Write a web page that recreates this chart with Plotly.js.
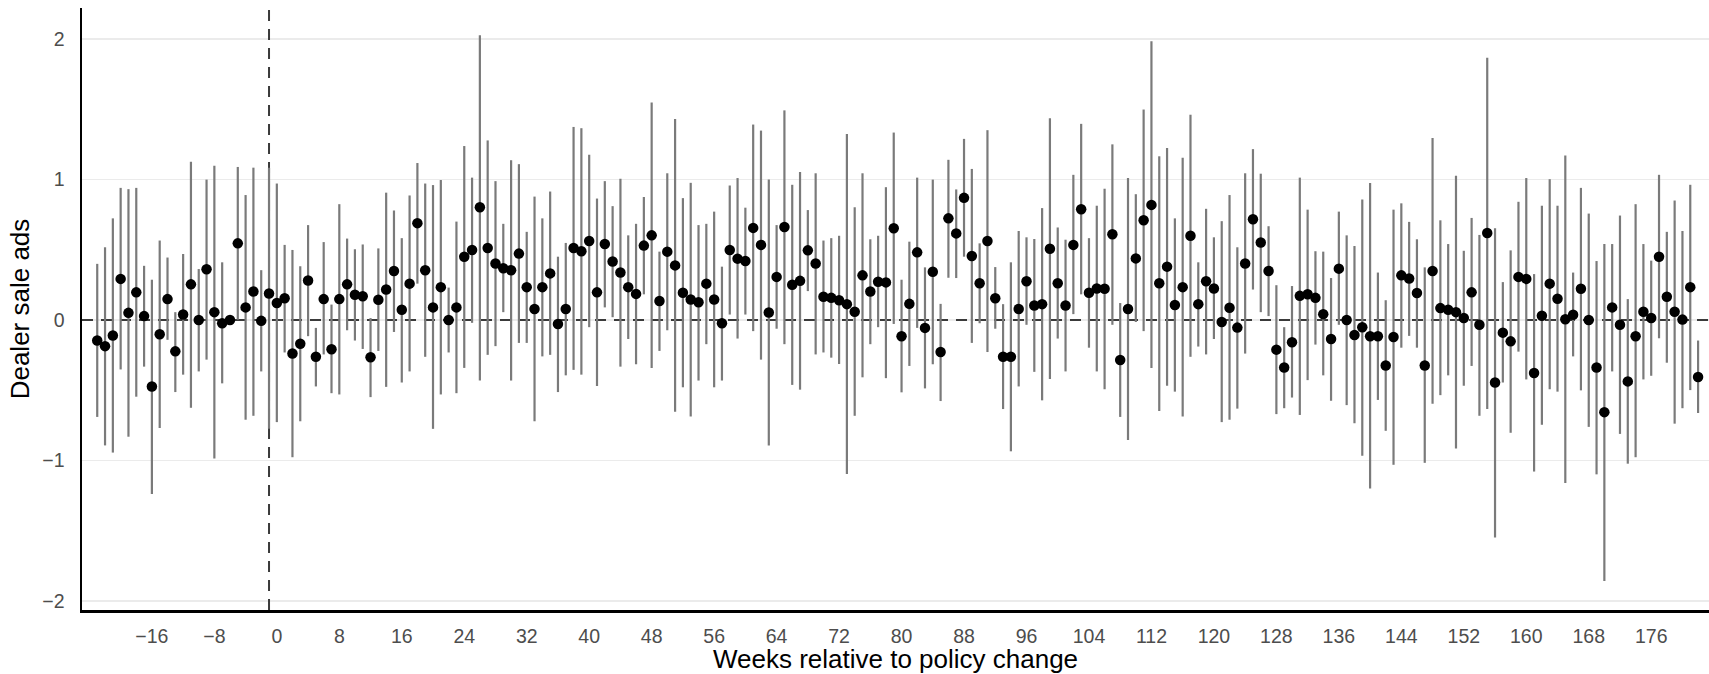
<!DOCTYPE html>
<html>
<head>
<meta charset="utf-8">
<script src="https://cdn.plot.ly/plotly-3.0.1.min.js"></script>
<style>
  html, body { margin: 0; padding: 0; background: #ffffff; }
  #chart { width: 1709px; height: 674px; }
</style>
</head>
<body>
<div id="chart"></div>
<script>
// Weeks relative to policy change
const weeks = [-23,-22,-21,-20,-19,-18,-17,-16,-15,-14,-13,-12,-11,-10,-9,-8,-7,-6,-5,-4,-3,-2,-1,
  0,1,2,3,4,5,6,7,8,9,10,11,12,13,14,15,16,17,18,19,20,21,22,23,24,25,26,27,28,29,30,31,32,33,34,35,36,37,38,39,
  40,41,42,43,44,45,46,47,48,49,50,51,52,53,54,55,56,57,58,59,60,61,62,63,64,65,66,67,68,69,70,71,72,73,74,75,76,77,78,79,
  80,81,82,83,84,85,86,87,88,89,90,91,92,93,94,95,96,97,98,99,100,101,102,103,104,105,106,107,108,109,110,111,112,113,114,115,116,117,118,119,
  120,121,122,123,124,125,126,127,128,129,130,131,132,133,134,135,136,137,138,139,140,141,142,143,144,145,146,147,148,149,150,151,152,153,154,155,156,157,158,159,
  160,161,162,163,164,165,166,167,168,169,170,171,172,173,174,175,176,177,178,179,180,181,182];

// Point estimates
const estimate = [-0.146,-0.186,-0.11,0.293,0.051,0.197,0.028,-0.473,-0.101,0.149,-0.223,0.039,0.254,0.0,0.361,0.056,-0.023,0.0,0.546,0.09,0.203,-0.006,0.189,
  0.121,0.155,-0.239,-0.169,0.282,-0.262,0.149,-0.208,0.149,0.254,0.18,0.169,-0.265,0.144,0.217,0.349,0.073,0.259,0.69,0.355,0.09,0.234,0.0,0.09,0.451,0.499,0.803,0.513,0.403,0.369,0.355,0.473,0.234,0.079,0.234,0.332,-0.028,0.079,0.513,0.49,
  0.563,0.197,0.541,0.417,0.338,0.234,0.186,0.530,0.603,0.135,0.487,0.389,0.194,0.146,0.127,0.259,0.146,-0.023,0.499,0.437,0.42,0.656,0.535,0.054,0.307,0.662,0.251,0.279,0.496,0.403,0.166,0.158,0.141,0.113,0.059,0.318,0.203,0.273,0.268,0.654,
  -0.115,0.115,0.482,-0.056,0.344,-0.228,0.724,0.617,0.870,0.456,0.262,0.563,0.155,-0.262,-0.262,0.079,0.276,0.104,0.113,0.507,0.262,0.104,0.535,0.789,0.194,0.225,0.223,0.611,-0.285,0.079,0.439,0.71,0.82,0.262,0.38,0.107,0.234,0.60,0.113,0.276,
  0.225,-0.014,0.087,-0.054,0.403,0.718,0.552,0.349,-0.211,-0.338,-0.158,0.172,0.183,0.158,0.042,-0.135,0.366,0.0,-0.107,-0.051,-0.115,-0.115,-0.324,-0.121,0.318,0.296,0.192,-0.324,0.349,0.085,0.073,0.056,0.014,0.197,-0.034,0.62,-0.445,-0.09,-0.152,0.307,
  0.293,-0.377,0.031,0.259,0.152,0.006,0.037,0.223,0.0,-0.338,-0.656,0.09,-0.034,-0.437,-0.115,0.059,0.014,0.451,0.166,0.059,0.003,0.234,-0.406];

// Upper bound of the confidence interval
const upper = [0.40,0.518,0.724,0.941,0.932,0.941,0.386,0.287,0.566,0.445,0.056,0.470,1.127,0.363,1.0,1.099,0.411,0.0,1.09,0.89,1.085,0.355,1.085,
  0.972,0.535,0.499,0.383,0.676,-0.056,0.555,0.11,0.825,0.58,0.504,0.538,0.014,0.51,0.907,0.78,0.583,0.887,1.118,0.972,0.961,0.997,0.231,0.701,1.239,1.014,2.028,1.279,0.989,0.685,1.138,1.11,0.628,0.879,0.724,0.915,0.451,0.549,1.375,1.366,
  1.177,0.865,0.989,0.811,1.006,0.603,0.685,0.876,1.549,0.487,1.045,1.431,0.868,0.977,0.676,0.685,0.772,0.38,0.958,1.011,0.80,1.392,1.349,1.0,0.676,1.493,0.963,1.054,0.783,1.045,0.566,0.583,0.60,1.324,0.803,1.045,0.575,0.60,0.946,1.335,
  0.287,0.558,1.014,0.375,1.0,0.115,1.141,0.93,1.29,1.076,0.546,1.352,0.377,0.113,0.411,0.634,0.589,0.577,0.797,1.437,0.659,0.572,1.034,1.397,0.583,0.814,0.935,1.251,0.121,1.011,0.896,1.499,1.986,1.166,1.225,0.724,1.155,1.462,0.411,0.792,
  0.589,0.704,0.89,0.518,1.045,1.217,1.042,0.668,0.248,-0.051,0.242,1.014,0.786,0.49,0.487,0.299,0.772,0.603,0.527,0.859,0.975,0.338,0.141,0.786,0.831,0.699,0.575,0.375,1.296,0.71,0.541,1.028,0.493,0.727,0.606,1.868,0.654,0.27,0.496,0.842,
  1.011,0.327,0.814,1.003,0.814,1.172,0.338,0.941,0.758,0.42,0.541,0.541,0.744,0.149,0.825,0.541,0.423,1.034,0.628,0.851,0.634,0.963,-0.146];

// Lower bound of the confidence interval
const lower = [-0.69,-0.893,-0.944,-0.352,-0.831,-0.546,-0.332,-1.239,-0.769,-0.141,-0.513,-0.389,-0.625,-0.366,-0.282,-0.986,-0.451,0.0,0.002,-0.71,-0.682,-0.366,-0.775,
  -0.727,-0.231,-0.977,-0.721,-0.115,-0.473,-0.245,-0.521,-0.53,-0.073,-0.146,-0.206,-0.549,-0.22,-0.476,-0.085,-0.445,-0.366,0.259,-0.262,-0.775,-0.53,-0.231,-0.521,-0.341,-0.02,-0.431,-0.248,-0.186,0.056,-0.431,-0.163,-0.163,-0.721,-0.259,-0.248,-0.513,-0.394,-0.355,-0.389,
  -0.051,-0.47,0.09,0.02,-0.332,-0.135,-0.315,0.183,-0.341,-0.22,-0.073,-0.654,-0.479,-0.687,-0.431,-0.172,-0.479,-0.431,0.039,-0.132,0.039,-0.079,-0.282,-0.893,-0.062,-0.172,-0.462,-0.496,0.206,-0.245,-0.231,-0.268,-0.313,-1.096,-0.682,-0.408,-0.172,-0.051,-0.414,-0.028,
  -0.515,-0.327,-0.056,-0.487,-0.315,-0.577,0.301,0.299,0.451,-0.163,-0.023,-0.228,-0.062,-0.634,-0.935,-0.473,-0.034,-0.369,-0.572,-0.42,-0.132,-0.366,0.042,0.183,-0.197,-0.366,-0.493,-0.034,-0.69,-0.854,-0.014,-0.079,-0.341,-0.648,-0.468,-0.51,-0.687,-0.262,-0.189,-0.245,
  -0.135,-0.727,-0.71,-0.631,-0.239,0.217,0.056,0.028,-0.67,-0.628,-0.552,-0.676,-0.428,-0.175,-0.394,-0.575,-0.034,-0.606,-0.735,-0.966,-1.2,-0.569,-0.789,-1.031,-0.197,-0.113,-0.197,-1.017,-0.597,-0.535,-0.394,-0.915,-0.468,-0.327,-0.682,-0.634,-1.549,-0.445,-0.803,-0.225,
  -0.423,-1.079,-0.746,-0.493,-0.51,-1.161,-0.259,-0.501,-0.761,-1.099,-1.859,-0.366,-0.811,-1.023,-0.977,-0.423,-0.397,-0.13,-0.304,-0.738,-0.628,-0.499,-0.662];

const xTickVals = [-16,-8,0,8,16,24,32,40,48,56,64,72,80,88,96,104,112,120,128,136,144,152,160,168,176];
const yTickVals = [-2,-1,0,1,2];
const policyWeek = -1;
const xRange = [-24.95, 183.4];
const yRange = [-2.065, 2.222];

const errPlus = upper.map((u, i) => u - estimate[i]);
const errMinus = lower.map((l, i) => estimate[i] - l);

const trace = {
  type: 'scatter',
  mode: 'markers',
  x: weeks,
  y: estimate,
  marker: { color: '#000000', size: 10.5 },
  error_y: {
    type: 'data', symmetric: false,
    array: errPlus, arrayminus: errMinus,
    color: '#7a7a7a', thickness: 2.2, width: 0
  },
  hoverinfo: 'x+y',
  showlegend: false
};

const fontFam = '"Liberation Sans", Arial, Helvetica, sans-serif';

const layout = {
  width: 1709, height: 674,
  margin: { l: 82, r: 0, t: 8, b: 64 },
  paper_bgcolor: '#ffffff', plot_bgcolor: '#ffffff',
  font: { family: fontFam, color: '#000000' },
  showlegend: false,
  xaxis: {
    range: xRange,
    tickvals: xTickVals,
    showgrid: false, zeroline: false,
    showline: true, linecolor: '#000000', linewidth: 2.5,
    ticks: 'outside', ticklen: 7, tickcolor: 'rgba(0,0,0,0)',
    tickfont: { family: fontFam, size: 19.5, color: '#4d4d4d' },
    title: { text: 'Weeks relative to policy change', font: { family: fontFam, size: 26, color: '#000000' }, standoff: 3 }
  },
  yaxis: {
    range: yRange,
    tickvals: yTickVals,
    showgrid: true, gridcolor: '#ebebeb', gridwidth: 1.6,
    zeroline: false,
    showline: true, linecolor: '#000000', linewidth: 2.5,
    ticks: 'outside', ticklen: 11, tickcolor: 'rgba(0,0,0,0)',
    tickfont: { family: fontFam, size: 19.5, color: '#4d4d4d' },
    title: { text: 'Dealer sale ads', font: { family: fontFam, size: 26, color: '#000000' }, standoff: 6 }
  },
  shapes: [
    { type: 'line', xref: 'x', x0: xRange[0], x1: xRange[1], yref: 'y', y0: 0, y1: 0, layer: 'between',
      line: { color: '#3a3a3a', width: 2, dash: '11px,8px' } },
    { type: 'line', xref: 'x', x0: policyWeek, x1: policyWeek, yref: 'y', y0: yRange[0], y1: yRange[1], layer: 'between',
      line: { color: '#3a3a3a', width: 2, dash: '11px,8px' } }
  ]
};

Plotly.newPlot('chart', [trace], layout, { displayModeBar: false, staticPlot: true });
</script>
</body>
</html>
